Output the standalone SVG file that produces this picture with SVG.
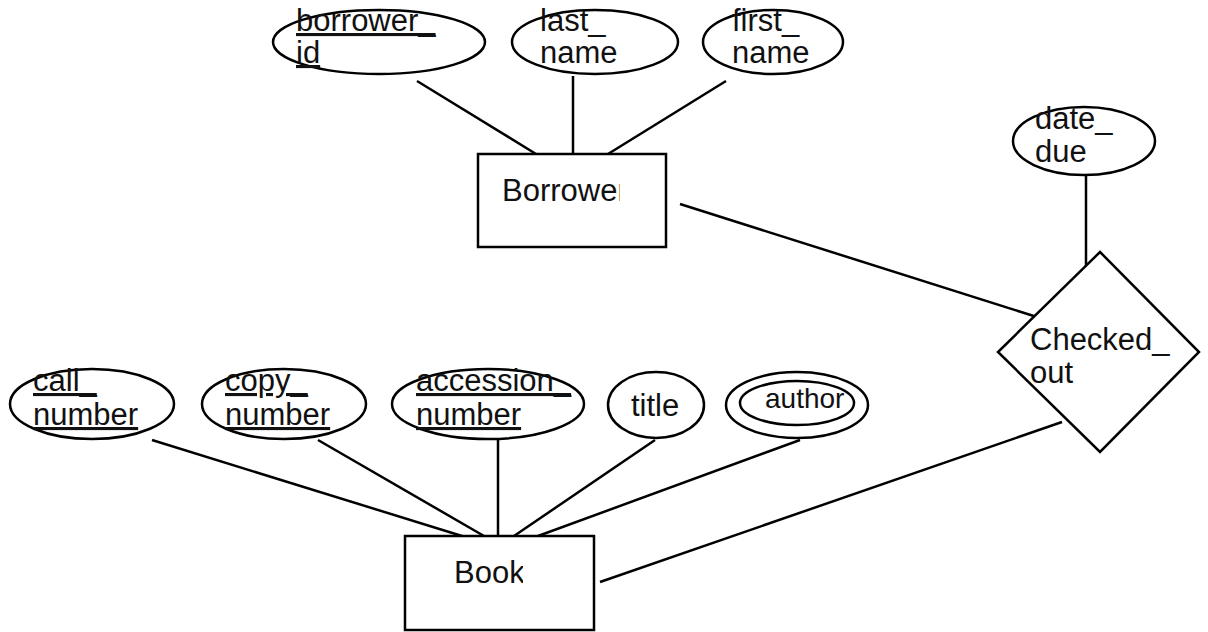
<svg xmlns="http://www.w3.org/2000/svg" width="1208" height="632" viewBox="0 0 1208 632">
<style>
.s{fill:#fff;stroke:#000;stroke-width:2.5}
.t{font-family:"Liberation Sans",Arial,sans-serif;font-size:31px;fill:#111}
.u{text-decoration:underline}
.c line{stroke:#000;stroke-width:2.5}
</style>
<defs>
<clipPath id="cb"><rect x="478" y="154" width="142" height="93"/></clipPath>
<clipPath id="ck"><rect x="405" y="536" width="118" height="94"/></clipPath>
</defs>
<rect width="1208" height="632" fill="#fff"/>
<g class="c">
<line x1="417" y1="81" x2="536" y2="154"/>
<line x1="573" y1="76" x2="573" y2="154"/>
<line x1="726" y1="81" x2="608" y2="154"/>
<line x1="680" y1="204" x2="1040" y2="318"/>
<line x1="1086" y1="175" x2="1086" y2="273"/>
<line x1="152" y1="440" x2="462" y2="536"/>
<line x1="318" y1="440" x2="484" y2="536"/>
<line x1="498" y1="440" x2="498" y2="536"/>
<line x1="655" y1="440" x2="514" y2="536"/>
<line x1="800" y1="440" x2="538" y2="536"/>
<line x1="1062" y1="422" x2="600" y2="582"/>
</g>
<g id="borrower_id"><ellipse class="s" cx="379" cy="42" rx="106" ry="32"/><text class="t u" x="296" y="31">borrower_</text><text class="t u" x="296" y="63">id</text></g>
<g id="last_name"><ellipse class="s" cx="595" cy="42" rx="83" ry="32"/><text class="t" x="540" y="31">last_</text><text class="t" x="540" y="63">name</text></g>
<g id="first_name"><ellipse class="s" cx="773" cy="42" rx="70" ry="32"/><text class="t" x="732" y="31">first_</text><text class="t" x="732" y="63">name</text></g>
<g id="borrower"><rect class="s" x="478" y="154" width="188" height="93"/><text class="t" x="502" y="201" clip-path="url(#cb)">Borrower</text></g>
<g id="date_due"><ellipse class="s" cx="1084" cy="141" rx="71" ry="34"/><text class="t" x="1035" y="129">date_</text><text class="t" x="1035" y="162">due</text></g>
<g id="checked_out"><polygon class="s" points="1100,252 1199,352 1100,452 998,352"/><text class="t" x="1030" y="350">Checked_</text><text class="t" x="1030" y="383">out</text></g>
<g id="call_number"><ellipse class="s" cx="92" cy="404" rx="82" ry="35"/><text class="t u" x="33" y="391">call_</text><text class="t u" x="33" y="425">number</text></g>
<g id="copy_number"><ellipse class="s" cx="284" cy="404" rx="82" ry="35"/><text class="t u" x="225" y="391">copy_</text><text class="t u" x="225" y="425">number</text></g>
<g id="accession_number"><ellipse class="s" cx="488" cy="404" rx="96" ry="35"/><text class="t u" x="416" y="391">accession_</text><text class="t u" x="416" y="425">number</text></g>
<g id="title"><ellipse class="s" cx="656" cy="405" rx="48" ry="33"/><text class="t" x="655" y="416" text-anchor="middle">title</text></g>
<g id="author"><ellipse class="s" cx="797" cy="405" rx="71" ry="33"/><ellipse class="s" cx="797" cy="403" rx="57" ry="22"/><text class="t" x="765" y="408" style="font-size:28px">author</text></g>
<g id="book"><rect class="s" x="405" y="536" width="189" height="94"/><text class="t" x="454" y="583" clip-path="url(#ck)">Book</text></g>
</svg>
